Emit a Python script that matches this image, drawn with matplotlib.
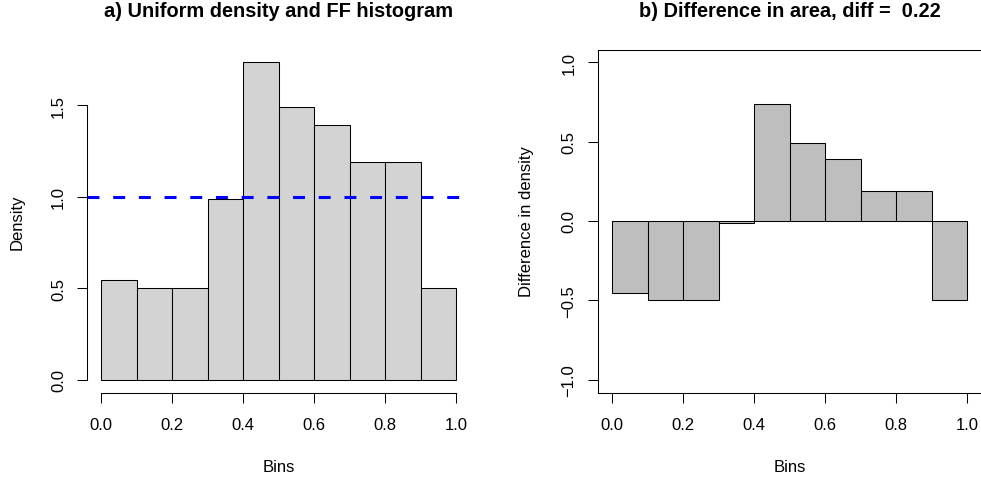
import matplotlib
matplotlib.use("Agg")
import matplotlib.pyplot as plt

plt.rcParams['font.family'] = ['Liberation Sans', 'DejaVu Sans']
plt.rcParams['lines.scale_dashes'] = False

bin_edges = [0.0, 0.1, 0.2, 0.3, 0.4, 0.5, 0.6, 0.7, 0.8, 0.9]
bin_width = 0.1
density = [0.545, 0.5, 0.5, 0.99, 1.735, 1.49, 1.39, 1.19, 1.19, 0.5]
diff_density = [-0.455, -0.5, -0.5, -0.01, 0.735, 0.49, 0.39, 0.19, 0.19, -0.5]
uniform_level = 1.0
x_ticks = [0.0, 0.2, 0.4, 0.6, 0.8, 1.0]
yL_ticks = [0.0, 0.5, 1.0, 1.5]
yR_ticks = [-1.0, -0.5, 0.0, 0.5, 1.0]
title_a = "a) Uniform density and FF histogram"
title_b = "b) Difference in area, diff =  0.22"

W, H = 981, 481
fig = plt.figure(figsize=(W / 100, H / 100), dpi=100)

top_px, bot_px = 50.5, 393.5
axL = fig.add_axes([87.1 / W, (H - bot_px) / H, (470.5 - 87.1) / W, (bot_px - top_px) / H])
axR = fig.add_axes([597.8 / W, (H - bot_px) / H, (981.5 - 597.8) / W, (bot_px - top_px) / H])

lw = 0.75
tick_kw = dict(direction='out', length=7.2, width=lw, labelsize=12, color='black')

# Left panel
axL.bar(bin_edges, density, width=bin_width, align='edge', color='#D3D3D3',
        edgecolor='black', linewidth=lw)
axL.axhline(uniform_level, color='#0000FF', linewidth=2.2, dashes=(8.6, 9.9),
            dash_capstyle='butt')
ymax = max(density)
axL.set_xlim(-0.04, 1.04)
axL.set_ylim(-0.04 * ymax, ymax * 1.04)
for s in ['top', 'right']:
    axL.spines[s].set_visible(False)
axL.spines['left'].set_bounds(0, 1.5)
axL.spines['bottom'].set_bounds(0, 1.0)
axL.set_xticks(x_ticks)
axL.set_xticklabels([f"{v:.1f}" for v in x_ticks])
axL.set_yticks(yL_ticks)
axL.set_yticklabels([f"{v:.1f}" for v in yL_ticks], rotation=90, va='center')

# Right panel
axR.bar(bin_edges, diff_density, width=bin_width, align='edge', color='#BEBEBE',
        edgecolor='black', linewidth=lw)
axR.set_xlim(-0.04, 1.04)
axR.set_ylim(-1.08, 1.08)
axR.set_xticks(x_ticks)
axR.set_xticklabels([f"{v:.1f}" for v in x_ticks])
axR.set_yticks(yR_ticks)
axR.set_yticklabels([f"{v:.1f}".replace('-', '\u2212') for v in yR_ticks], rotation=90, va='center')

for ax in (axL, axR):
    for s in ax.spines.values():
        s.set_linewidth(lw)
    ax.tick_params(axis='x', pad=10.5, **tick_kw)
    ax.tick_params(axis='y', pad=8, **tick_kw)
    ax.patch.set_alpha(0)

# Titles and labels
fig.text(278.8 / W, (H - 17) / H, title_a, ha='center', va='baseline',
         fontsize=14.4, fontweight='bold')
fig.text(789.6 / W, (H - 17) / H, title_b, ha='center', va='baseline',
         fontsize=14.4, fontweight='bold')
fig.text(278.8 / W, (H - 471.7) / H, "Bins", ha='center', va='baseline', fontsize=12)
fig.text(789.6 / W, (H - 471.7) / H, "Bins", ha='center', va='baseline', fontsize=12)
fig.text(16.8 / W, (H - 222) / H, "Density", ha='center', va='center', rotation=90, fontsize=12)
fig.text(526.7 / W, (H - 222) / H, "Difference in density", ha='center', va='center',
         rotation=90, fontsize=12)

fig.savefig("out.png", dpi=100)
